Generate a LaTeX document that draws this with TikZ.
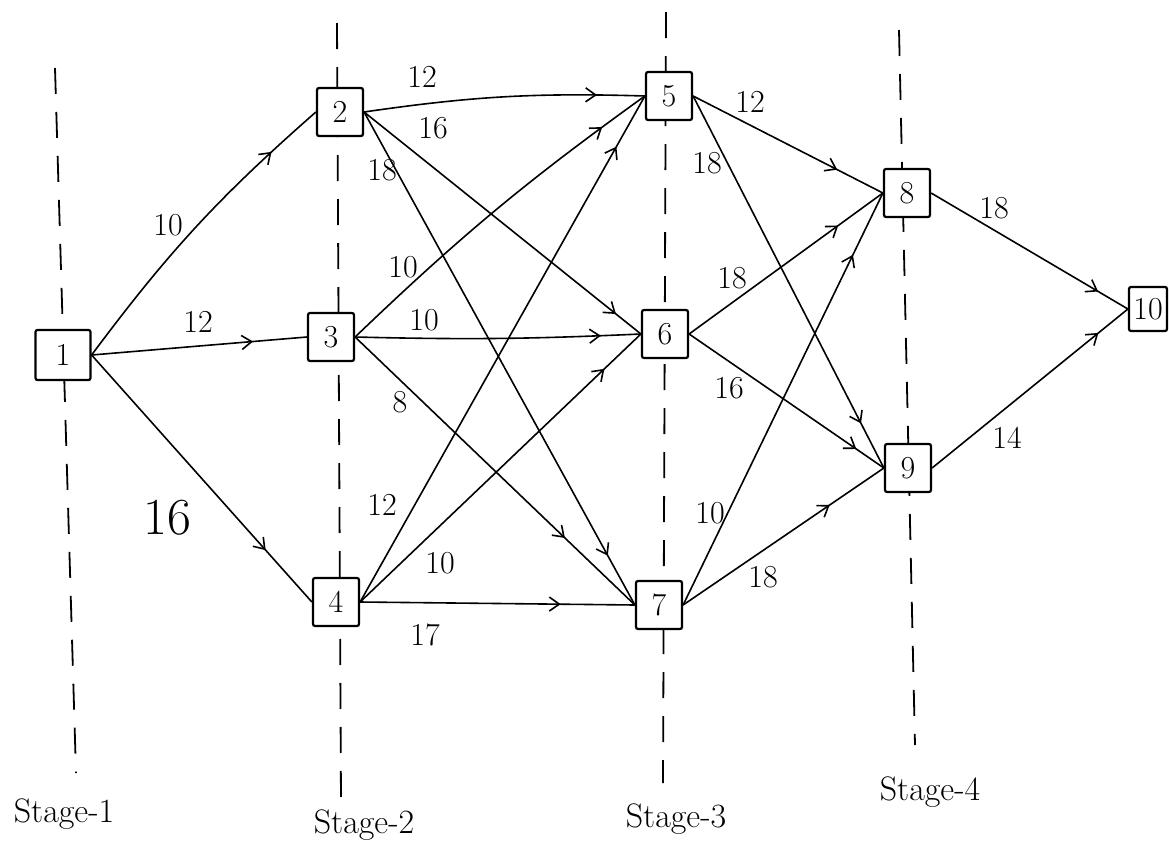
\documentclass[tikz,border=0pt]{standalone}
\usetikzlibrary{arrows.meta,decorations.markings}
\begin{document}
\begin{tikzpicture}[x=0.5pt,y=-0.5pt,
  box/.style={draw, line width=1.1pt, fill=white, minimum width=23pt, minimum height=24pt,
    inner sep=0pt, rounded corners=1pt, font=\fontsize{16}{16}\selectfont},
  stageline/.style={line width=0.9pt, dash pattern=on 13pt off 9pt},
  conn/.style={line width=0.8pt},
  tipat/.style={postaction={decorate}, decoration={markings,
    mark=at position #1 with {\arrow{Straight Barb[length=5pt,width=7pt,line width=0.8pt]}}}},
  lbl/.style={font=\fontsize{16}{16}\selectfont, inner sep=0pt},
  stagelbl/.style={font=\fontsize{17}{17}\selectfont, anchor=base, inner sep=0pt}
]
\useasboundingbox (0,0) rectangle (1169,852);

% stage separators
\coordinate (s1t) at (55,68);   \coordinate (s1b) at (76,773);
\coordinate (s2t) at (337,23);  \coordinate (s2b) at (341,803);
\coordinate (s3t) at (666,12);  \coordinate (s3b) at (663,783);
\coordinate (s4t) at (899,30);  \coordinate (s4b) at (915,745);
\draw[stageline] (s1t) -- (s1b);
\draw[stageline] (s2t) -- (s2b);
\draw[stageline] (s3t) -- (s3b);
\draw[stageline] (s4t) -- (s4b);

% vertices
\node[box, minimum width=27.5pt, minimum height=25pt] (n1) at (63,355) {1};
\node[box] (n2) at (340,112) {2};
\node[box] (n3) at (331,337) {3};
\node[box] (n4) at (336,602) {4};
\node[box] (n5) at (669,96) {5};
\node[box] (n6) at (665,334) {6};
\node[box] (n7) at (659,605) {7};
\node[box] (n8) at (907,193) {8};
\node[box] (n9) at (908,468) {9};
\node[box, minimum width=19pt, minimum height=22pt] (n10) at (1148,309) {10};

% stage 1 -> stage 2
\draw[conn, tipat=0.82] (n1.east) to[bend left=6] (n2.west);
\draw[conn, tipat=0.75] (n1.east) -- (n3.west);
\draw[conn, tipat=0.79] (n1.east) -- (n4.west);

% stage 2 -> stage 3
\draw[conn, tipat=0.83] (n2.east) to[bend left=5] (n5.west);
\draw[conn, tipat=0.91] (n2.east) -- (n6.west);
\draw[conn, tipat=0.90] (n2.east) -- (n7.west);
\draw[conn, tipat=0.86] (n3.east) to[bend left=4] (n5.west);
\draw[conn, tipat=0.86] (n3.east) to[bend right=2] (n6.west);
\draw[conn, tipat=0.75] (n3.east) -- (n7.west);
\draw[conn, tipat=0.90] (n4.east) -- (n5.west);
\draw[conn, tipat=0.87] (n4.east) -- (n6.west);
\draw[conn, tipat=0.73] (n4.east) -- (n7.west);

% stage 3 -> stage 4
\draw[conn, tipat=0.76] (n5.east) -- (n8.west);
\draw[conn, tipat=0.88] (n5.east) -- (n9.west);
\draw[conn, tipat=0.77] (n6.east) -- (n8.west);
\draw[conn, tipat=0.86] (n6.east) -- (n9.west);
\draw[conn, tipat=0.85] (n7.east) -- (n8.west);
\draw[conn, tipat=0.73] (n7.east) -- (n9.west);

% stage 4 -> sink
\draw[conn, tipat=0.85] (n8.east) -- (n10.west);
\draw[conn, tipat=0.85] (n9.east) -- (n10.west);

% edge costs
\node[lbl] (c12) at (168,225) {10};
\node[lbl] (c13) at (198,322) {12};
\node[lbl, font=\fontsize{26}{26}\selectfont] (c14) at (167,518) {16};
\node[lbl] (c25) at (422,77) {12};
\node[lbl] (c26) at (433,128) {16};
\node[lbl] (c27) at (382,170) {18};
\node[lbl] (c35) at (403,267) {10};
\node[lbl] (c36) at (424,320) {10};
\node[lbl] (c37) at (400,402) {8};
\node[lbl] (c45) at (382,505) {12};
\node[lbl] (c46) at (440,563) {10};
\node[lbl] (c47) at (425,635) {17};
\node[lbl] (c58) at (750,102) {12};
\node[lbl] (c59) at (707,163) {18};
\node[lbl] (c68) at (732,278) {18};
\node[lbl] (c69) at (729,388) {16};
\node[lbl] (c78) at (710,513) {10};
\node[lbl] (c79) at (763,577) {18};
\node[lbl] (c810) at (994,208) {18};
\node[lbl] (c910) at (1007,438) {14};

% stage names
\node[stagelbl] (t1) at (64,822) {Stage-1};
\node[stagelbl] (t2) at (364,833) {Stage-2};
\node[stagelbl] (t3) at (676,827) {Stage-3};
\node[stagelbl] (t4) at (930,800) {Stage-4};
\end{tikzpicture}
\end{document}
